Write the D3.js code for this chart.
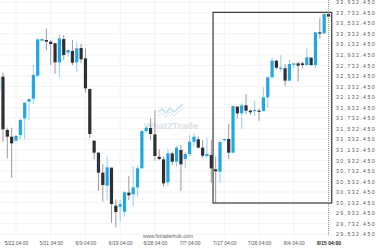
<!DOCTYPE html>
<html><head><meta charset="utf-8">
<script src="https://cdn.jsdelivr.net/npm/d3@7"></script>
<style>html,body{margin:0;padding:0;background:#fff;}svg{display:block;}</style>
</head><body>
<script>
// ---- data ----
const slots = [-4,-3,-2,-1,0,1,2,3,4,5,6,7,8,9,10,11,12,13,14,15,16,17,18,19,20,21,22,23,24,25,26,27,28,29,30,31,32,33,34,35,36,37,38,39,40,41,42,43,44,45,46,47,48,49,50,51,52,53,54,55,56,57,58,59,60,61,62,63,64,65,66,67,68,69,70,71,72];
const opens  = [32253,32519,31508,31381,31305,31413,31729,32045,32102,32538,33201,33214,33182,33151,32790,33233,32974,33005,32790,33062,32866,32285,31305,31078,30699,30452,30794,30073,30054,29959,30320,30288,30421,30781,31489,31545,31425,31002,30951,30516,31065,30907,31128,30958,31053,31286,31331,31173,31015,31034,30762,30718,31318,31337,31078,31950,31824,31975,31874,31868,31874,31868,32127,32506,32822,32670,32677,32443,32746,32771,32771,32740,32879,32740,33359,33340,33707];
const highs  = [32550,32595,31552,31552,31413,31729,32045,32108,32740,33232,33245,33429,33214,33163,33321,33309,33030,33214,33182,33138,33056,32297,31310,31097,30863,31015,30800,30193,30181,30357,30636,30813,30832,31508,31583,31729,31887,31141,31002,31160,31097,31211,31223,31097,31413,31444,31381,31318,31350,31318,31002,31318,31350,31621,31970,31963,32013,32190,31899,32064,31918,32316,32519,32885,32835,32929,32759,32835,32778,32803,32803,33056,32885,33365,33625,33719,33732];
const lows   = [32203,31286,30971,30604,31286,31331,31331,31697,32000,32506,33195,33024,32740,32569,32506,32835,32898,32740,32613,32771,32215,31350,30951,30357,30149,30181,29751,29662,29770,29865,30181,30054,30231,30775,31444,31318,30926,30939,30433,30446,30844,30813,30351,30781,31002,31192,31160,30971,30971,30509,30124,30509,31286,30958,31065,31729,31520,31811,31792,31773,31684,31855,31937,32487,32664,32613,32342,32424,32677,32424,32677,32727,32721,32677,33245,33334,33650];
const closes = [32506,31520,31381,31255,31394,31697,32026,32095,32550,33226,33233,33182,33138,32790,33245,32929,33024,32784,33056,32847,32297,31432,31078,30699,30465,30800,30105,29953,30105,30326,30269,30421,30781,31489,31552,31432,31015,30958,30497,31065,30907,31173,30857,31053,31286,31381,31173,31021,31053,30781,30724,31280,31337,31078,31963,31824,31975,31874,31843,31887,31855,32127,32506,32822,32689,32689,32443,32759,32771,32727,32740,32885,32740,33359,33334,33707,33656];
const yTicks = [29532.45,29732.45,29932.45,30132.45,30332.45,30532.45,30732.45,30932.45,31132.45,31332.45,31532.45,31732.45,31932.45,32132.45,32332.45,32532.45,32732.45,32932.45,33132.45,33332.45,33532.45,33732.45,33932.45];
const xTickSlots = [0,8,16,24,32,40,48,56,64,72];
const xTickLabels = ["5/22 04:00","5/31 04:00","6/9 04:00","6/19 04:00","6/28 04:00","7/7 04:00","7/17 04:00","7/26 04:00","8/4 04:00","8/15 04:00"];
const boxSlots = [45.4, 72.75];
const boxPrices = [30124, 33738];
const currentSlot = [72];

// ---- chart ----
const W = 380, H = 250, plotR = 333, plotB = 237;
const svg = d3.select("body").append("svg").attr("width", W).attr("height", H);
svg.append("rect").attr("width", W).attr("height", H).attr("fill", "#fff");

const x = d3.scaleLinear().domain([0, 72]).range([16, 328.5]);
const y = d3.scaleLinear().domain([29532.45, 33932.45]).range([234.2, 2.1]);

svg.append("defs").append("clipPath").attr("id", "plot")
  .append("rect").attr("x", 0).attr("y", 0).attr("width", plotR).attr("height", plotB);

const grid = svg.append("g").attr("clip-path", "url(#plot)");
grid.selectAll(".hg").data(yTicks).join("line")
  .attr("x1", 0).attr("x2", plotR).attr("y1", d => y(d)).attr("y2", d => y(d))
  .attr("stroke", "#f0f0f0").attr("stroke-width", 0.8);
grid.selectAll(".vg").data(xTickSlots).join("line")
  .attr("x1", d => x(d)).attr("x2", d => x(d)).attr("y1", 0).attr("y2", plotB)
  .attr("stroke", "#f0f0f0").attr("stroke-width", 0.8);

// watermark
const wm = svg.append("g");
wm.append("polyline")
  .attr("points", [[158,112],[162,109],[166,113],[170,108],[174,112],[183,104]].map(p=>p.join(",")).join(" "))
  .attr("fill", "none").attr("stroke", "#a9d8f0").attr("stroke-width", 1.6).attr("opacity", 0.7);
wm.append("polyline")
  .attr("points", [[158,116],[162,113],[166,117],[170,112],[174,116],[183,108]].map(p=>p.join(",")).join(" "))
  .attr("fill", "none").attr("stroke", "#a9d8f0").attr("stroke-width", 1.0).attr("opacity", 0.6);
const wt = wm.append("text").attr("x", 171).attr("y", 129).attr("text-anchor", "middle")
  .attr("font-family", "Liberation Sans, Arial, sans-serif").attr("font-size", 9.5).attr("font-weight", "bold")
  .attr("opacity", 0.55);
wt.append("tspan").attr("fill", "#c3c8cf").text("What");
wt.append("tspan").attr("fill", "#a9d8f0").text("2");
wt.append("tspan").attr("fill", "#c3c8cf").text("Trade");

// candles
const candles = slots.map((s, i) => ({s, o: opens[i], h: highs[i], l: lows[i], c: closes[i]}));
const cg = svg.append("g").attr("clip-path", "url(#plot)");
const up = "#1fa6e3", dn = "#2e2f36", upW = "#86cdef", dnW = "#8e8e92";
const bw = 3.2;
cg.selectAll(".wick").data(candles).join("line")
  .attr("x1", d => x(d.s)).attr("x2", d => x(d.s))
  .attr("y1", d => y(d.h)).attr("y2", d => y(d.l))
  .attr("stroke", d => d.c >= d.o ? upW : dnW).attr("stroke-width", 0.9);
cg.selectAll(".body").data(candles).join("rect")
  .attr("x", d => x(d.s) - bw / 2).attr("width", bw)
  .attr("y", d => y(Math.max(d.o, d.c)))
  .attr("height", d => Math.max(1.2, Math.abs(y(d.o) - y(d.c))))
  .attr("fill", d => d.c >= d.o ? up : dn);

// pattern box
svg.append("rect")
  .attr("x", x(boxSlots[0])).attr("y", y(boxPrices[1]))
  .attr("width", x(boxSlots[1]) - x(boxSlots[0])).attr("height", y(boxPrices[0]) - y(boxPrices[1]))
  .attr("fill", "none").attr("stroke", "#3a3a3a").attr("stroke-width", 1.2);

// current time dotted line
svg.selectAll(".cur").data(currentSlot).join("line")
  .attr("x1", d => x(d)).attr("x2", d => x(d)).attr("y1", 0).attr("y2", 236)
  .attr("stroke", "#888").attr("stroke-width", 0.8).attr("stroke-dasharray", "1,1");

// y axis
const yAxis = svg.append("g").attr("transform", `translate(${plotR},0)`)
  .call(d3.axisRight(y).tickValues(yTicks).tickFormat(d3.format(",.3f")).tickSize(0).tickPadding(3));
yAxis.select(".domain").remove();
yAxis.selectAll("text").attr("font-family", "Liberation Sans, Arial, sans-serif").attr("font-size", 5.2)
  .attr("fill", "#555").attr("letter-spacing", 1.4);

// x axis
const xAxis = svg.append("g").attr("transform", `translate(0,${plotB + 2})`)
  .call(d3.axisBottom(x).tickValues(xTickSlots).tickFormat((d, i) => xTickLabels[i]).tickSize(0).tickPadding(2));
xAxis.select(".domain").remove();
xAxis.selectAll("text").attr("font-family", "Liberation Sans, Arial, sans-serif").attr("font-size", 5)
  .attr("fill", "#555")
  .attr("font-weight", (d, i) => i === xTickLabels.length - 1 ? "bold" : null)
  .attr("fill", (d, i) => i === xTickLabels.length - 1 ? "#222" : "#555");

// credit
svg.append("text").attr("x", 193).attr("y", 237.5).attr("text-anchor", "end")
  .attr("font-family", "Liberation Sans, Arial, sans-serif").attr("font-size", 5.2).attr("fill", "#666")
  .text("www.fxtraderhub.com");
</script>
</body></html>
